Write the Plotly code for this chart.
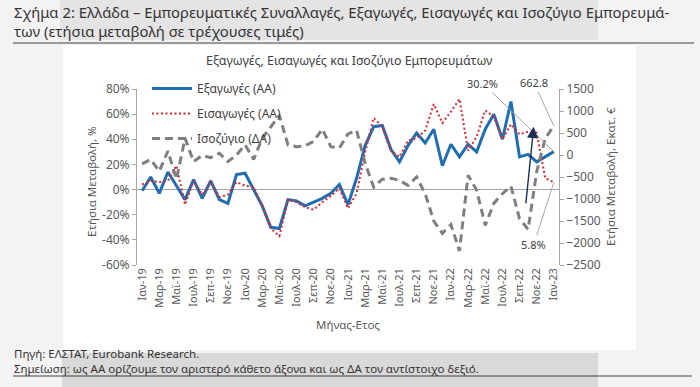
import plotly.graph_objects as go

# ---------------- data ----------------
month_names = ["Ιαν", "Φεβ", "Μαρ", "Απρ", "Μαϊ", "Ιουν", "Ιουλ", "Αυγ", "Σεπ", "Οκτ", "Νοε", "Δεκ"]
years = ["19", "20", "21", "22"]
categories = [f"{m}-{y}" for y in years for m in month_names] + ["Ιαν-23"]
tick_labels = categories[::2]

exports_pct = [-1, 10, -3, 14, 3, -8, 8, -7, 7, -8, -11, 12,
               13, 0, -13, -30, -31, -8, -9, -13, -10, -7, -3, 4,
               -12, 9, 35, 50, 51, 32, 22, 35, 45, 37, 48, 19,
               36, 26, 36, 30, 48, 60, 40, 70, 26, 28, 22, 26,
               30.2]
imports_pct = [4, 7, 6, 7, 19, -12, 7, -4, 6, -6, -4, 6,
               3, 2, -13, -31, -37, -8, -10, -14, -16, -10, -5, 1,
               -15, -3, 30, 57, 50, 31, 26, 39, 41, 47, 68, 53,
               62, 72, 31, 42, 63, 58, 40, 52, 44, 46, 45, 9,
               5.8]
balance_meur = [-200, -100, -370, 90, -550, 380, -150, -10, -60, 40, -150, 0,
                230, -100, 380, 650, 900, 230, 190, 210, 310, 590, 190, 160,
                480, 560, -190, -730, -550, -530, -575, -690, -500, -880, -1500, -1780,
                -1580, -2180, -460, -800, -1600, -1100, -880, -710, -1450, -1690, -380, 380,
                662.8]

# ---------------- layout geometry ----------------
W, H = 700, 387
L, R, T, B = 137, 141, 89, 122
PW, PH = W - L - R, H - T - B


def px(x):
    return (x - L) / PW


def py(y):
    return (H - B - y) / PH


FONT = "Noto Sans"
TXT = "#404040"
AX = "#595959"

fig = go.Figure()
fig.add_trace(go.Scatter(x=categories, y=exports_pct, name="Εξαγωγές (ΑΑ)", mode="lines",
                         line=dict(color="#1f6db3", width=3), legendgroup="a"))
fig.add_trace(go.Scatter(x=categories, y=imports_pct, name="Εισαγωγές (ΑΑ)", mode="lines",
                         line=dict(color="#e0262b", width=2, dash="2px,2.5px"), legendgroup="b"))
fig.add_trace(go.Scatter(x=categories, y=balance_meur, name="Ισοζύγιο (ΔΑ)", mode="lines",
                         line=dict(color="#7f7f7f", width=3, dash="8px,5px"), yaxis="y2",
                         legendgroup="c"))

shapes = [
    # page bands
    dict(type="rect", xref="paper", yref="paper", x0=px(60), x1=px(598), y0=py(0), y1=py(40),
         fillcolor="#e4e4e4", line=dict(width=0), layer="below"),
    dict(type="rect", xref="paper", yref="paper", x0=px(63), x1=px(636), y0=py(45), y1=py(350),
         fillcolor="#ffffff", line=dict(width=0), layer="below"),
    dict(type="rect", xref="paper", yref="paper", x0=px(62), x1=px(598), y0=py(353), y1=py(387),
         fillcolor="#d9d9d9", line=dict(width=0), layer="below"),
    # rules
    dict(type="line", xref="paper", yref="paper", x0=px(13), x1=px(694), y0=py(43), y1=py(43),
         line=dict(color="#404040", width=1)),
    dict(type="line", xref="paper", yref="paper", x0=px(13), x1=px(692), y0=py(376), y1=py(376),
         line=dict(color="#404040", width=1)),
]

ann = [
    dict(text="Σχήμα 2: Ελλάδα – Εμπορευματικές Συναλλαγές, Εξαγωγές, Εισαγωγές και Ισοζύγιο Εμπορευμά-"
              "<br>των (ετήσια μεταβολή σε τρέχουσες τιμές)",
         xref="paper", yref="paper", x=px(12), y=py(21.5), xanchor="left", yanchor="middle",
         align="left", showarrow=False, font=dict(size=14.8, color="#333333", family=FONT)),
    dict(text="Εξαγωγές, Εισαγωγές και Ισοζύγιο Εμπορευμάτων",
         xref="paper", yref="paper", x=px(349), y=py(60), xanchor="center", yanchor="middle",
         showarrow=False, font=dict(size=12.4, color=TXT, family=FONT)),
    dict(text="Πηγή: ΕΛΣΤΑΤ, Eurobank Research.<br>"
              "Σημείωση: ως ΑΑ ορίζουμε τον αριστερό κάθετο άξονα και ως ΔΑ τον αντίστοιχο δεξιό.",
         xref="paper", yref="paper", x=px(12), y=py(361), xanchor="left", yanchor="middle",
         align="left", showarrow=False, font=dict(size=11.5, color="#333333", family=FONT)),
    # axis titles
    dict(text="Ετήσια Μεταβολή, %", textangle=-90,
         xref="paper", yref="paper", x=px(91), y=py(182), xanchor="center", yanchor="middle",
         showarrow=False, font=dict(size=11.5, color=AX, family=FONT)),
    dict(text="Ετήσια Μεταβολή, Εκατ. €", textangle=-90,
         xref="paper", yref="paper", x=px(610), y=py(177), xanchor="center", yanchor="middle",
         showarrow=False, font=dict(size=11.5, color=AX, family=FONT)),
    # value labels with leader lines
    dict(text="30.2%", x=len(categories) - 1, y=exports_pct[-1], xref="x", yref="y",
         ax=-71, ay=-68, showarrow=True, arrowhead=0, arrowwidth=1, arrowcolor="#a6a6a6",
         standoff=0, font=dict(size=11, color=TXT, family=FONT)),
    dict(text="662.8", x=len(categories) - 1, y=balance_meur[-1], xref="x", yref="y2",
         ax=-20, ay=-43, showarrow=True, arrowhead=0, arrowwidth=1, arrowcolor="#a6a6a6",
         standoff=0, font=dict(size=11, color=TXT, family=FONT)),
    dict(text="5.8%", x=len(categories) - 1, y=imports_pct[-1], xref="x", yref="y",
         ax=-20, ay=62, showarrow=True, arrowhead=0, arrowwidth=1, arrowcolor="#a6a6a6",
         standoff=0, font=dict(size=11, color=TXT, family=FONT)),
    # trend arrow
    dict(text="", x=45.65, y=640, xref="x", yref="y2", ax=-8, ay=78, showarrow=True,
         arrowhead=2, arrowsize=1.6, arrowwidth=1.4, arrowcolor="#1c2b5a"),
]

fig.update_layout(
    width=W, height=H,
    margin=dict(l=L, r=R, t=T, b=B, pad=0, autoexpand=False),
    paper_bgcolor="#f3f3f3", plot_bgcolor="rgba(0,0,0,0)",
    font=dict(family=FONT, color=AX, size=12),
    showlegend=True,
    legend=dict(xref="container", yref="container", x=147 / W, y=1 - 74 / H,
                xanchor="left", yanchor="top",
                bgcolor="rgba(0,0,0,0)", font=dict(size=12, color=TXT, family=FONT),
                tracegroupgap=6, itemwidth=40),
    xaxis=dict(type="category", categoryorder="array", categoryarray=categories,
               range=[-0.6, len(categories) - 0.4],
               tickmode="array", tickvals=tick_labels, ticktext=tick_labels,
               tickangle=-90, tickfont=dict(size=11, color=AX), ticks="",
               showline=False, showgrid=False, zeroline=False,
               title=dict(text="Μήνας-Ετος", font=dict(size=11.5, color=AX), standoff=14)),
    yaxis=dict(range=[-60, 80], tickvals=[-60, -40, -20, 0, 20, 40, 60, 80],
               ticktext=["-60%", "-40%", "-20%", "0%", "20%", "40%", "60%", "80%"],
               showgrid=False, zeroline=True, zerolinecolor="#a6a6a6", zerolinewidth=1,
               showline=True, linecolor="#a6a6a6", linewidth=1,
               ticks="outside", ticklen=4, tickcolor="#a6a6a6",
               tickfont=dict(size=12, color=AX)),
    yaxis2=dict(range=[-2500, 1500], tickvals=[-2500, -2000, -1500, -1000, -500, 0, 500, 1000, 1500],
                overlaying="y", side="right", showgrid=False, zeroline=False,
                showline=True, linecolor="#a6a6a6", linewidth=1,
                ticks="outside", ticklen=4, tickcolor="#a6a6a6",
                tickfont=dict(size=12, color=AX)),
    shapes=shapes,
    annotations=ann,
)

fig.write_html("out.html", config={"displayModeBar": False},
               post_script="document.body.style.margin='0px';document.body.style.padding='0px';")
